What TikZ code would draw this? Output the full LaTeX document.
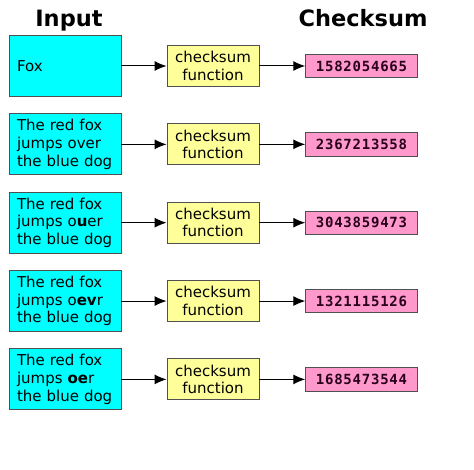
\documentclass[tikz,border=0pt]{standalone}
\usepackage{fontspec}
\setmainfont{DejaVu Sans}
\newfontfamily\summono[LetterSpace=5.5]{DejaVu Sans Mono}
\usetikzlibrary{arrows.meta}
\definecolor{inputfill}{RGB}{0,255,255}
\definecolor{funcfill}{RGB}{255,255,153}
\definecolor{sumfill}{RGB}{255,153,204}
\definecolor{sumtext}{RGB}{40,0,30}
\definecolor{boxline}{RGB}{80,80,80}
\begin{document}
\begin{tikzpicture}[x=1pt, y=-1pt,
            input/.style={rectangle, draw=boxline, fill=inputfill, line width=0.9pt, minimum width=112pt, minimum height=61pt, inner sep=0pt, text width=96pt, align=left, font=\fontsize{15}{17.7}\selectfont},
            func/.style={rectangle, draw=boxline, fill=funcfill, line width=0.9pt, minimum width=92pt, minimum height=41pt, inner sep=0pt, align=center, font=\fontsize{15}{17.3}\selectfont},
            sum/.style={rectangle, draw=boxline, fill=sumfill, line width=0.9pt, minimum width=111.6pt, minimum height=23.4pt, inner sep=0pt, text=sumtext, font=\summono\bfseries\fontsize{14}{17}\selectfont},
            title/.style={anchor=base, font=\bfseries\fontsize{22.5}{27}\selectfont},
            flow/.style={line width=1pt, -{Latex[length=12pt, width=10pt]}},
        ]
            \useasboundingbox (0,0) rectangle (474,470);
            \node[title](inputtitle) at (69,27) {Input};
            \node[title](sumtitle) at (363,27) {Checksum};
            \foreach \i/\txt/\val in {
                    1/{Fox}/1582054665,
                    2/{The red fox\\jumps over\\the blue dog}/2367213558,
                    3/{The red fox\\jumps o\textbf{u}er\\the blue dog}/3043859473,
                    4/{The red fox\\jumps o\textbf{ev}r\\the blue dog}/1321115126,
                    5/{The red fox\\jumps \textbf{oe}r\\the blue dog}/1685473544} {
                \node[input](in\i) at (65,{66+78.35*(\i-1)}) {\txt};
                \node[func](fn\i) at (213,{66+78.35*(\i-1)}) {checksum\\function};
                \node[sum](cs\i) at (361.5,{66+78.35*(\i-1)}) {\val};
                \draw[flow] (in\i) -- (fn\i);
                \draw[flow] (fn\i) -- (cs\i);
            }
        \end{tikzpicture}
\end{document}
